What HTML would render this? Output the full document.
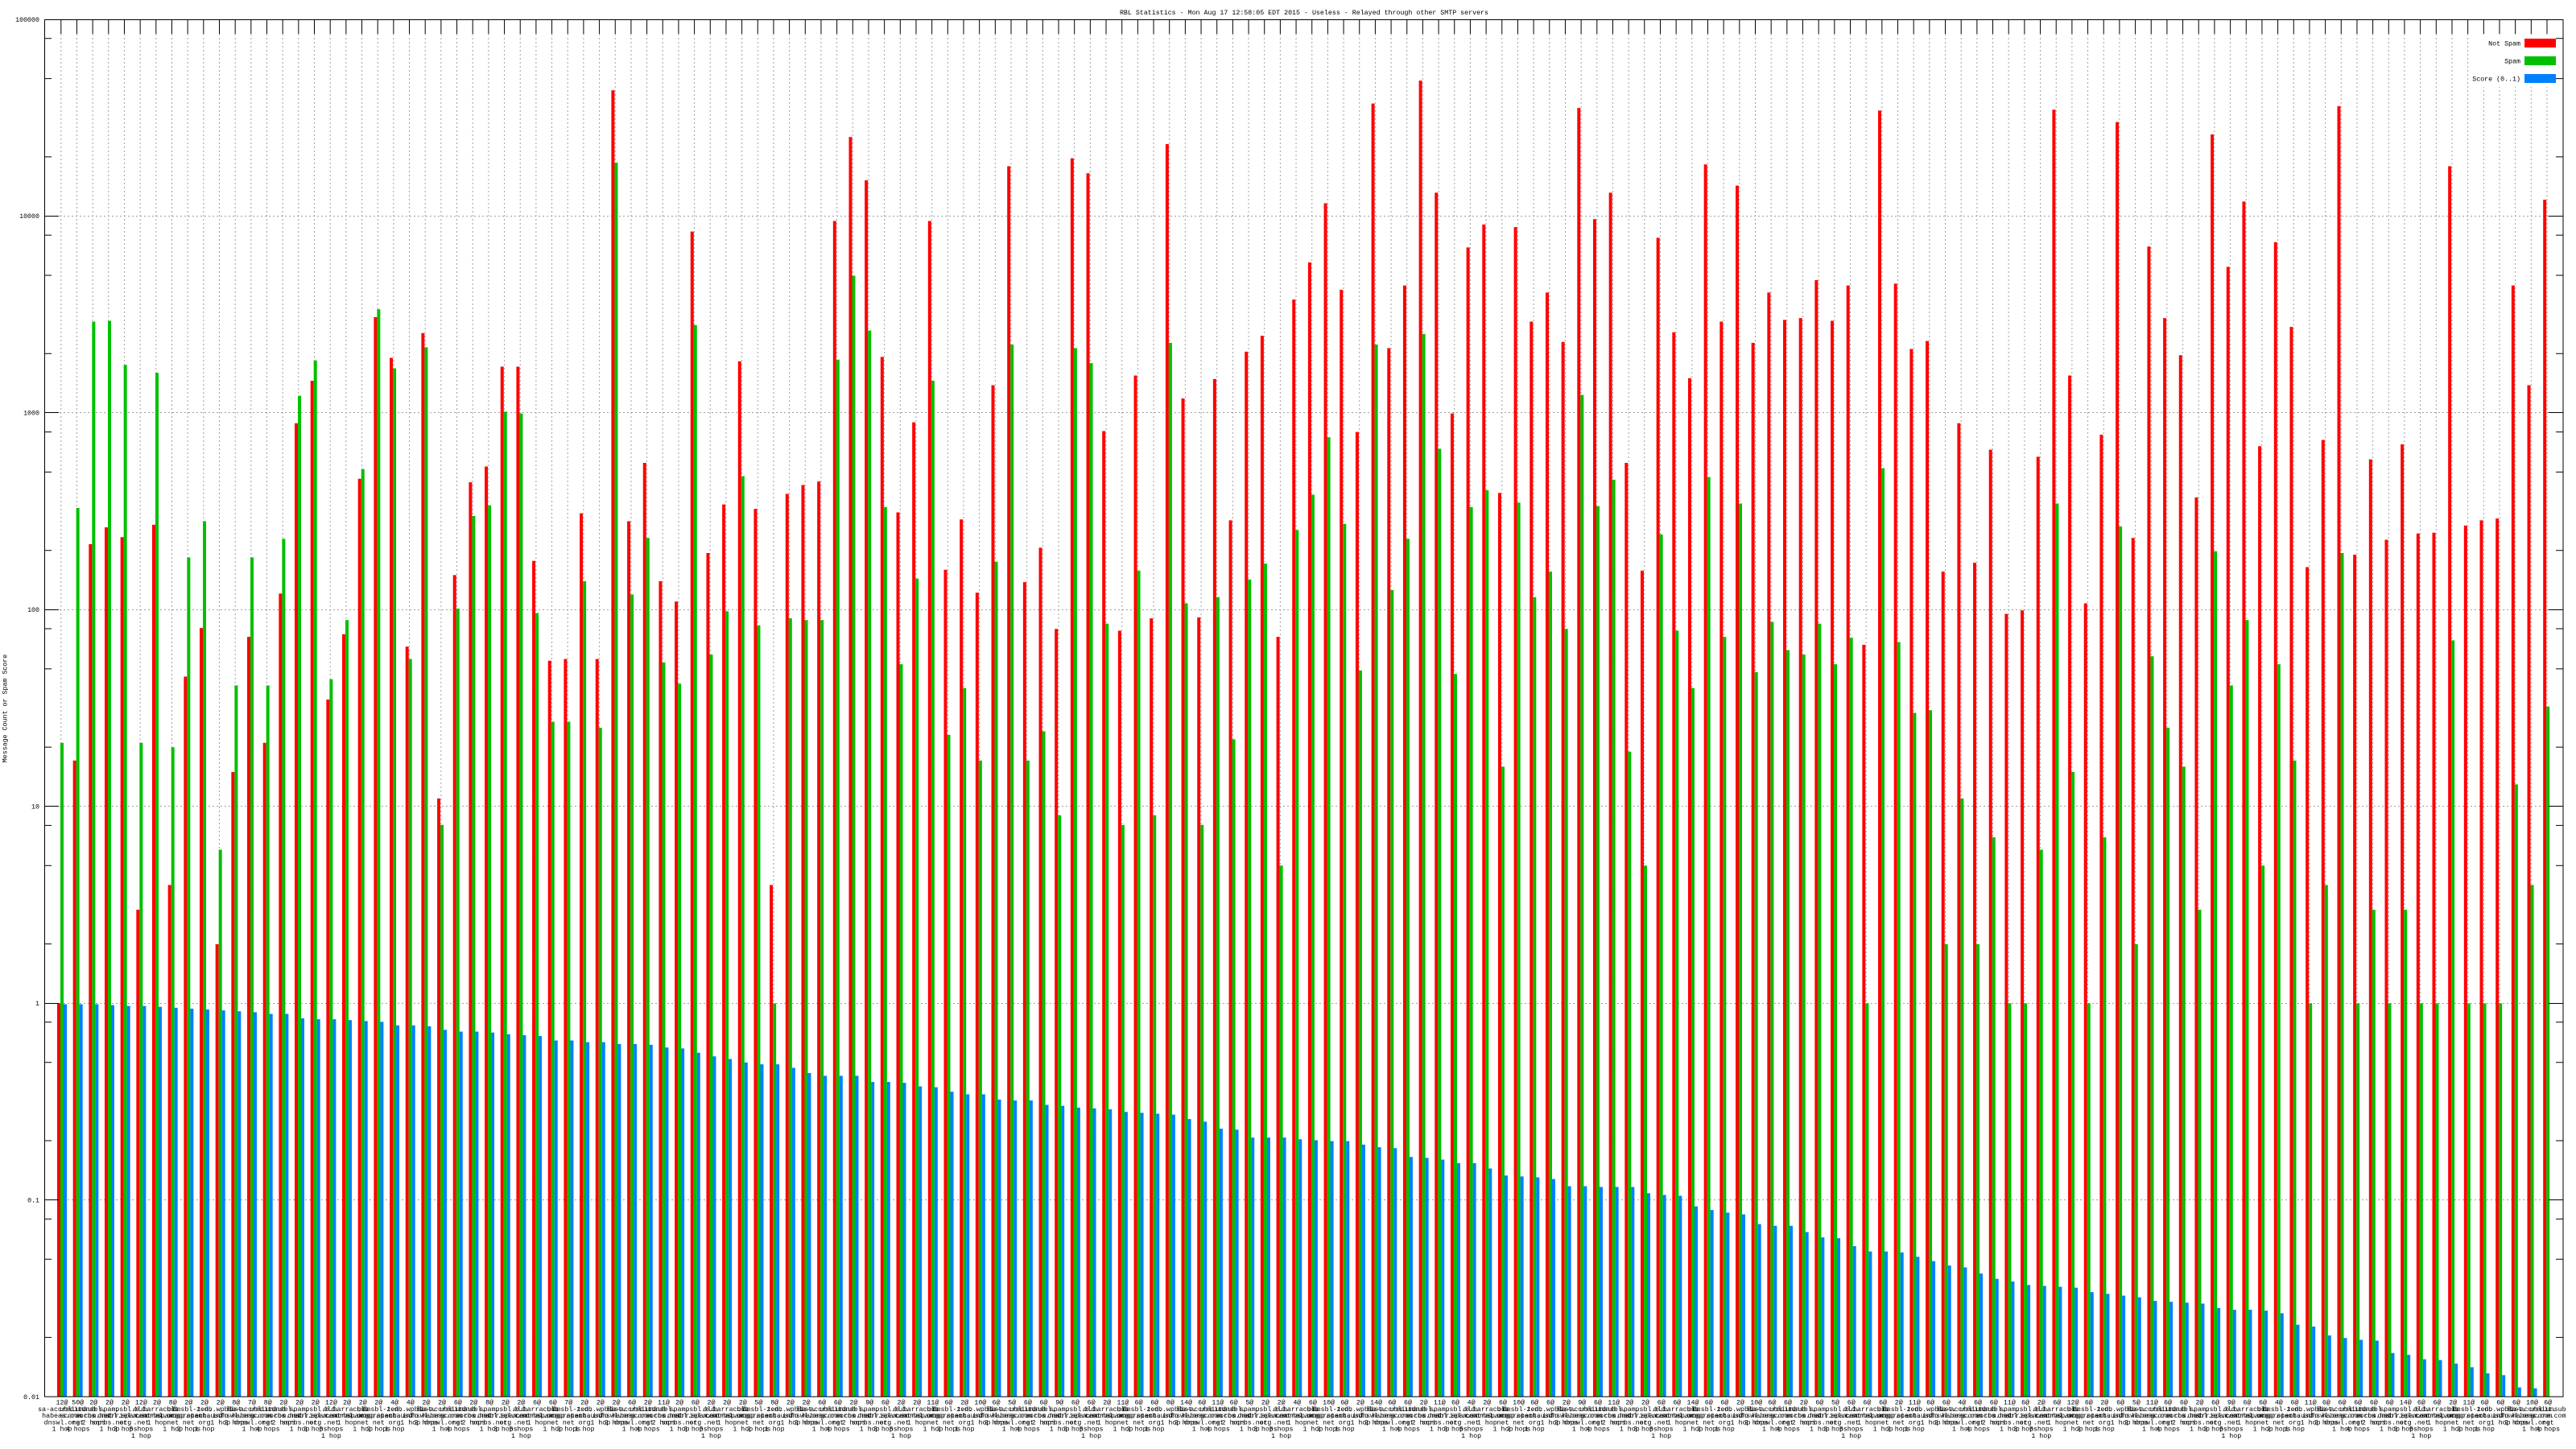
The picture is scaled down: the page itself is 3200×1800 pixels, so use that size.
<!DOCTYPE html>
<html><head><meta charset="utf-8"><style>
html,body{margin:0;padding:0;background:#fff;width:3200px;height:1800px;overflow:hidden}
svg{display:block}
text{font-family:"Liberation Mono","DejaVu Sans Mono",monospace;font-size:8.3px;fill:#000}
</style></head><body>
<svg xmlns="http://www.w3.org/2000/svg" width="3200" height="1800" viewBox="0 0 3200 1800">
<rect width="3200" height="1800" fill="#fff"/>
<text x="1620" y="18" text-anchor="middle">RBL Statistics - Mon Aug 17 12:58:05 EDT 2015 - Useless - Relayed through other SMTP servers</text>

<!-- horizontal grid -->
<path fill="none" stroke="#a0a0a0" stroke-width="1" stroke-dasharray="2 3" d="M74,268.5H3166M74,512.5H3166M74,757.5H3166M74,1001.5H3166M74,1246.5H3166M74,1490.5H3166"/>
<!-- vertical grid -->
<g transform="translate(75.8,0) scale(19.67,1)"><path fill="none" stroke="#a0a0a0" stroke-width="0.0508" stroke-dasharray="2 3" d="M0,42V1735M1,42V1735M2,42V1735M3,42V1735M4,42V1735M5,42V1735M6,42V1735M7,42V1735M8,42V1735M9,42V1735M10,42V1735M11,42V1735M12,42V1735M13,42V1735M14,42V1735M15,42V1735M16,42V1735M17,42V1735M18,42V1735M19,42V1735M20,42V1735M21,42V1735M22,42V1735M23,42V1735M24,42V1735M25,42V1735M26,42V1735M27,42V1735M28,42V1735M29,42V1735M30,42V1735M31,42V1735M32,42V1735M33,42V1735M34,42V1735M35,42V1735M36,42V1735M37,42V1735M38,42V1735M39,42V1735M40,42V1735M41,42V1735M42,42V1735M43,42V1735M44,42V1735M45,42V1735M46,42V1735M47,42V1735M48,42V1735M49,42V1735M50,42V1735M51,42V1735M52,42V1735M53,42V1735M54,42V1735M55,42V1735M56,42V1735M57,42V1735M58,42V1735M59,42V1735M60,42V1735M61,42V1735M62,42V1735M63,42V1735M64,42V1735M65,42V1735M66,42V1735M67,42V1735M68,42V1735M69,42V1735M70,42V1735M71,42V1735M72,42V1735M73,42V1735M74,42V1735M75,42V1735M76,42V1735M77,42V1735M78,42V1735M79,42V1735M80,42V1735M81,42V1735M82,42V1735M83,42V1735M84,42V1735M85,42V1735M86,42V1735M87,42V1735M88,42V1735M89,42V1735M90,42V1735M91,42V1735M92,42V1735M93,42V1735M94,42V1735M95,42V1735M96,42V1735M97,42V1735M98,42V1735M99,42V1735M100,42V1735M101,42V1735M102,42V1735M103,42V1735M104,42V1735M105,42V1735M106,42V1735M107,42V1735M108,42V1735M109,42V1735M110,42V1735M111,42V1735M112,42V1735M113,42V1735M114,42V1735M115,42V1735M116,42V1735M117,42V1735M118,42V1735M119,42V1735M120,42V1735M121,42V1735M122,42V1735M123,42V1735M124,42V1735M125,42V1735M126,42V1735M127,42V1735M128,42V1735M129,42V1735M130,42V1735M131,42V1735M132,42V1735M133,42V1735M134,42V1735M135,42V1735M136,42V1735M137,42V1735M138,42V1735M139,42V1735M140,42V1735M141,42V1735M142,42V1735M143,42V1735M144,42V1735M145,42V1735M146,42V1735M147,42V1735M148,42V1735M149,42V1735M150,42V1735M151,42V1735M152,42V1735M153,42V1735M154,42V1735M155,42V1735M156,42V1735M157,42V1735"/></g>

<!-- legend background -->
<rect x="3070" y="43" width="113" height="65" fill="#fff"/>

<!-- bars -->
<g transform="translate(73,20) scale(19.67,1.09694)" shape-rendering="crispEdges"><path fill="none" stroke="#ff0000" stroke-width="0.20336" d="M0 1118V1563.4M1 843V1563.4M2 598V1563.4M3 579V1563.4M4 590V1563.4M5 1012V1563.4M6 576V1563.4M7 984V1563.4M8 748V1563.4M9 693V1563.4M10 1051V1563.4M11 856V1563.4M12 703V1563.4M13 823V1563.4M14 654V1563.4M15 461V1563.4M16 413V1563.4M17 774V1563.4M18 700V1563.4M19 524V1563.4M20 341V1563.4M21 387V1563.4M22 714V1563.4M23 359V1563.4M24 886V1563.4M25 633V1563.4M26 528V1563.4M27 510V1563.4M28 397V1563.4M29 397V1563.4M30 617V1563.4M31 730V1563.4M32 728V1563.4M33 563V1563.4M34 728V1563.4M35 84V1563.4M36 572V1563.4M37 506V1563.4M38 640V1563.4M39 663V1563.4M40 244V1563.4M41 608V1563.4M42 553V1563.4M43 391V1563.4M44 558V1563.4M45 984V1563.4M46 541V1563.4M47 531V1563.4M48 527V1563.4M49 232V1563.4M50 137V1563.4M51 186V1563.4M52 386V1563.4M53 562V1563.4M54 460V1563.4M55 232V1563.4M56 627V1563.4M57 570V1563.4M58 653V1563.4M59 418V1563.4M60 170V1563.4M61 641V1563.4M62 602V1563.4M63 694V1563.4M64 161V1563.4M65 178V1563.4M66 470V1563.4M67 696V1563.4M68 407V1563.4M69 682V1563.4M70 145V1563.4M71 433V1563.4M72 681V1563.4M73 411V1563.4M74 571V1563.4M75 380V1563.4M76 362V1563.4M77 703V1563.4M78 321V1563.4M79 279V1563.4M80 212V1563.4M81 310V1563.4M82 471V1563.4M83 99V1563.4M84 376V1563.4M85 305V1563.4M86 73V1563.4M87 200V1563.4M88 450V1563.4M89 262V1563.4M90 236V1563.4M91 540V1563.4M92 239V1563.4M93 346V1563.4M94 313V1563.4M95 369V1563.4M96 104V1563.4M97 230V1563.4M98 200V1563.4M99 506V1563.4M100 628V1563.4M101 251V1563.4M102 358V1563.4M103 410V1563.4M104 168V1563.4M105 346V1563.4M106 192V1563.4M107 370V1563.4M108 313V1563.4M109 344V1563.4M110 342V1563.4M111 299V1563.4M112 345V1563.4M113 305V1563.4M114 712V1563.4M115 107V1563.4M116 303V1563.4M117 377V1563.4M118 368V1563.4M119 629V1563.4M120 461V1563.4M121 619V1563.4M122 491V1563.4M123 677V1563.4M124 673V1563.4M125 499V1563.4M126 106V1563.4M127 407V1563.4M128 665V1563.4M129 474V1563.4M130 120V1563.4M131 591V1563.4M132 261V1563.4M133 342V1563.4M134 384V1563.4M135 545V1563.4M136 134V1563.4M137 284V1563.4M138 210V1563.4M139 487V1563.4M140 256V1563.4M141 352V1563.4M142 624V1563.4M143 480V1563.4M144 102V1563.4M145 610V1563.4M146 502V1563.4M147 593V1563.4M148 485V1563.4M149 586V1563.4M150 585V1563.4M151 170V1563.4M152 577V1563.4M153 571V1563.4M154 569V1563.4M155 305V1563.4M156 418V1563.4M157 208V1563.4"/></g>
<g transform="translate(77,20) scale(19.67,1.09694)" shape-rendering="crispEdges"><path fill="none" stroke="#00c000" stroke-width="0.20336" d="M0 823V1563.4M1 557V1563.4M2 346V1563.4M3 345V1563.4M4 395V1563.4M5 823V1563.4M6 404V1563.4M7 828V1563.4M8 613V1563.4M9 572V1563.4M10 944V1563.4M11 758V1563.4M12 613V1563.4M13 758V1563.4M14 592V1563.4M15 430V1563.4M16 390V1563.4M17 751V1563.4M18 684V1563.4M19 513V1563.4M20 332V1563.4M21 399V1563.4M22 728V1563.4M23 375V1563.4M24 916V1563.4M25 671V1563.4M26 566V1563.4M27 554V1563.4M28 448V1563.4M29 450V1563.4M30 676V1563.4M31 799V1563.4M32 799V1563.4M33 640V1563.4M34 806V1563.4M35 166V1563.4M36 655V1563.4M37 591V1563.4M38 732V1563.4M39 756V1563.4M40 350V1563.4M41 723V1563.4M42 674V1563.4M43 521V1563.4M44 690V1563.4M45 1118V1563.4M46 682V1563.4M47 684V1563.4M48 684V1563.4M49 389V1563.4M50 294V1563.4M51 356V1563.4M52 556V1563.4M53 734V1563.4M54 637V1563.4M55 413V1563.4M56 814V1563.4M57 761V1563.4M58 843V1563.4M59 618V1563.4M60 372V1563.4M61 843V1563.4M62 810V1563.4M63 905V1563.4M64 376V1563.4M65 393V1563.4M66 688V1563.4M67 916V1563.4M68 628V1563.4M69 905V1563.4M70 370V1563.4M71 665V1563.4M72 916V1563.4M73 658V1563.4M74 819V1563.4M75 638V1563.4M76 620V1563.4M77 962V1563.4M78 582V1563.4M79 542V1563.4M80 477V1563.4M81 575V1563.4M82 741V1563.4M83 372V1563.4M84 650V1563.4M85 592V1563.4M86 360V1563.4M87 490V1563.4M88 745V1563.4M89 556V1563.4M90 537V1563.4M91 850V1563.4M92 551V1563.4M93 658V1563.4M94 629V1563.4M95 694V1563.4M96 429V1563.4M97 555V1563.4M98 525V1563.4M99 833V1563.4M100 962V1563.4M101 587V1563.4M102 696V1563.4M103 761V1563.4M104 522V1563.4M105 703V1563.4M106 552V1563.4M107 743V1563.4M108 686V1563.4M109 718V1563.4M110 723V1563.4M111 688V1563.4M112 734V1563.4M113 704V1563.4M114 1118V1563.4M115 512V1563.4M116 709V1563.4M117 789V1563.4M118 786V1563.4M119 1051V1563.4M120 886V1563.4M121 1051V1563.4M122 930V1563.4M123 1118V1563.4M124 1118V1563.4M125 944V1563.4M126 552V1563.4M127 856V1563.4M128 1118V1563.4M129 930V1563.4M130 578V1563.4M131 1051V1563.4M132 725V1563.4M133 806V1563.4M134 850V1563.4M135 1012V1563.4M136 606V1563.4M137 758V1563.4M138 684V1563.4M139 962V1563.4M140 734V1563.4M141 843V1563.4M142 1118V1563.4M143 984V1563.4M144 608V1563.4M145 1118V1563.4M146 1012V1563.4M147 1118V1563.4M148 1012V1563.4M149 1118V1563.4M150 1118V1563.4M151 707V1563.4M152 1118V1563.4M153 1118V1563.4M154 1118V1563.4M155 870V1563.4M156 984V1563.4M157 782V1563.4"/></g>
<g transform="translate(81,20) scale(19.67,1.09694)" shape-rendering="crispEdges"><path fill="none" stroke="#0080ff" stroke-width="0.20336" d="M0 1119V1563.4M1 1119V1563.4M2 1119V1563.4M3 1120V1563.4M4 1121V1563.4M5 1121V1563.4M6 1122V1563.4M7 1123V1563.4M8 1124V1563.4M9 1125V1563.4M10 1126V1563.4M11 1127V1563.4M12 1128V1563.4M13 1130V1563.4M14 1130V1563.4M15 1135V1563.4M16 1136V1563.4M17 1136V1563.4M18 1137V1563.4M19 1138V1563.4M20 1139V1563.4M21 1143V1563.4M22 1143V1563.4M23 1144V1563.4M24 1148V1563.4M25 1150V1563.4M26 1150V1563.4M27 1151V1563.4M28 1153V1563.4M29 1154V1563.4M30 1155V1563.4M31 1160V1563.4M32 1160V1563.4M33 1162V1563.4M34 1162V1563.4M35 1164V1563.4M36 1164V1563.4M37 1165V1563.4M38 1168V1563.4M39 1169V1563.4M40 1174V1563.4M41 1178V1563.4M42 1181V1563.4M43 1185V1563.4M44 1187V1563.4M45 1187V1563.4M46 1191V1563.4M47 1197V1563.4M48 1200V1563.4M49 1200V1563.4M50 1200V1563.4M51 1207V1563.4M52 1207V1563.4M53 1208V1563.4M54 1212V1563.4M55 1213V1563.4M56 1218V1563.4M57 1221V1563.4M58 1221V1563.4M59 1227V1563.4M60 1228V1563.4M61 1228V1563.4M62 1233V1563.4M63 1234V1563.4M64 1236V1563.4M65 1237V1563.4M66 1238V1563.4M67 1241V1563.4M68 1242V1563.4M69 1243V1563.4M70 1244V1563.4M71 1249V1563.4M72 1252V1563.4M73 1260V1563.4M74 1261V1563.4M75 1270V1563.4M76 1270V1563.4M77 1270V1563.4M78 1272V1563.4M79 1273V1563.4M80 1274V1563.4M81 1274V1563.4M82 1278V1563.4M83 1281V1563.4M84 1282V1563.4M85 1292V1563.4M86 1293V1563.4M87 1295V1563.4M88 1299V1563.4M89 1299V1563.4M90 1305V1563.4M91 1313V1563.4M92 1314V1563.4M93 1315V1563.4M94 1317V1563.4M95 1325V1563.4M96 1325V1563.4M97 1326V1563.4M98 1326V1563.4M99 1326V1563.4M100 1333V1563.4M101 1335V1563.4M102 1336V1563.4M103 1348V1563.4M104 1352V1563.4M105 1355V1563.4M106 1357V1563.4M107 1368V1563.4M108 1370V1563.4M109 1370V1563.4M110 1377V1563.4M111 1383V1563.4M112 1384V1563.4M113 1393V1563.4M114 1399V1563.4M115 1399V1563.4M116 1400V1563.4M117 1405V1563.4M118 1410V1563.4M119 1415V1563.4M120 1417V1563.4M121 1424V1563.4M122 1430V1563.4M123 1433V1563.4M124 1437V1563.4M125 1438V1563.4M126 1439V1563.4M127 1440V1563.4M128 1445V1563.4M129 1447V1563.4M130 1449V1563.4M131 1451V1563.4M132 1455V1563.4M133 1456V1563.4M134 1457V1563.4M135 1458V1563.4M136 1463V1563.4M137 1465V1563.4M138 1465V1563.4M139 1466V1563.4M140 1469V1563.4M141 1482V1563.4M142 1484V1563.4M143 1494V1563.4M144 1497V1563.4M145 1499V1563.4M146 1500V1563.4M147 1514V1563.4M148 1516V1563.4M149 1521V1563.4M150 1522V1563.4M151 1526V1563.4M152 1530V1563.4M153 1537V1563.4M154 1539V1563.4M155 1553V1563.4M156 1554V1563.4"/></g>

<!-- top x ticks -->
<path fill="none" stroke="#000" stroke-width="18" stroke-dasharray="1 18.67" d="M75.3,33H3170"/>
<!-- y ticks -->
<path fill="none" stroke="#000" stroke-width="1" d="M55,268.5h18M55,512.5h18M55,757.5h18M55,1001.5h18M55,1246.5h18M55,1490.5h18
M3184,268.5h-18M3184,512.5h-18M3184,757.5h-18M3184,1001.5h-18M3184,1246.5h-18M3184,1490.5h-18
M55,194.9h9M55,97.6h9M55,47.7h9M55,439.3h9M55,342h9M55,292.1h9M55,683.7h9M55,586.4h9M55,536.6h9M55,928.1h9M55,830.9h9M55,781h9M55,1172.6h9M55,1075.3h9M55,1025.4h9M55,1417h9M55,1319.7h9M55,1269.8h9M55,1661.4h9M55,1564.2h9M55,1514.3h9
M3184,194.9h-9M3184,97.6h-9M3184,47.7h-9M3184,439.3h-9M3184,342h-9M3184,292.1h-9M3184,683.7h-9M3184,586.4h-9M3184,536.6h-9M3184,928.1h-9M3184,830.9h-9M3184,781h-9M3184,1172.6h-9M3184,1075.3h-9M3184,1025.4h-9M3184,1417h-9M3184,1319.7h-9M3184,1269.8h-9M3184,1661.4h-9M3184,1564.2h-9M3184,1514.3h-9"/>
<!-- frame -->
<rect x="55.5" y="24.5" width="3128.5" height="1710.5" fill="none" stroke="#000" stroke-width="1"/>

<!-- legend -->
<text x="3131" y="56.5" text-anchor="end">Not Spam</text>
<rect x="3136" y="48" width="39" height="11" fill="#ff0000"/>
<text x="3131" y="78.5" text-anchor="end">Spam</text>
<rect x="3136" y="70" width="39" height="11" fill="#00c000"/>
<text x="3131" y="100.5" text-anchor="end">Score (0..1)</text>
<rect x="3136" y="92" width="39" height="11" fill="#0080ff"/>

<!-- y tick labels -->
<g text-anchor="end">
<text x="49" y="26.8">100000</text>
<text x="49" y="271.2">10000</text>
<text x="49" y="515.6">1000</text>
<text x="49" y="760.1">100</text>
<text x="49" y="1004.5">10</text>
<text x="49" y="1248.9">1</text>
<text x="49" y="1493.4">0.1</text>
<text x="49" y="1737.8">0.01</text>
</g>
<text transform="translate(8.5,880) rotate(-90)" text-anchor="middle">Message Count or Spam Score</text>

<!-- x labels -->
<g text-anchor="middle">
<text transform="translate(77)" y="1744.5">12@<tspan x="0" dy="8.3">sa-accredit.</tspan><tspan x="0" dy="8.3">habeas.com</tspan><tspan x="0" dy="8.3">dnswl.org</tspan><tspan x="0" dy="8.3">1 hop</tspan></text>
<text transform="translate(96.7)" y="1744.5">50@<tspan x="0" dy="8.3">ubl.unsub</tspan><tspan x="0" dy="8.3">score.com</tspan><tspan x="0" dy="8.3">net</tspan><tspan x="0" dy="8.3">4 hops</tspan></text>
<text transform="translate(116.3)" y="1744.5">2@<tspan x="0" dy="8.3">dnsbl.</tspan><tspan x="0" dy="8.3">sorbs.net</tspan><tspan x="0" dy="8.3">2 hops</tspan></text>
<text transform="translate(136)" y="1744.5">2@<tspan x="0" dy="8.3">spam.</tspan><tspan x="0" dy="8.3">dnsbl.</tspan><tspan x="0" dy="8.3">sorbs.net</tspan><tspan x="0" dy="8.3">1 hop</tspan></text>
<text transform="translate(155.7)" y="1744.5">2@<tspan x="0" dy="8.3">psbl.</tspan><tspan x="0" dy="8.3">surriel.com</tspan><tspan x="0" dy="8.3">org</tspan><tspan x="0" dy="8.3">3 hops</tspan></text>
<text transform="translate(175.4)" y="1744.5">12@<tspan x="0" dy="8.3">old.</tspan><tspan x="0" dy="8.3">spam.sorbs</tspan><tspan x="0" dy="8.3">.net</tspan><tspan x="0" dy="8.3">5 hops</tspan><tspan x="0" dy="8.3">1 hop</tspan></text>
<text transform="translate(195)" y="1744.5">2@<tspan x="0" dy="8.3">b.barracuda</tspan><tspan x="0" dy="8.3">central.org</tspan><tspan x="0" dy="8.3">1 hop</tspan></text>
<text transform="translate(214.7)" y="1744.5">8@<tspan x="0" dy="8.3">bl.</tspan><tspan x="0" dy="8.3">spamcop.</tspan><tspan x="0" dy="8.3">net</tspan><tspan x="0" dy="8.3">1 hop</tspan></text>
<text transform="translate(234.4)" y="1744.5">2@<tspan x="0" dy="8.3">dnsbl-1.</tspan><tspan x="0" dy="8.3">uceprotect.</tspan><tspan x="0" dy="8.3">net</tspan><tspan x="0" dy="8.3">2 hops</tspan></text>
<text transform="translate(254)" y="1744.5">2@<tspan x="0" dy="8.3">zen.</tspan><tspan x="0" dy="8.3">spamhaus.</tspan><tspan x="0" dy="8.3">org</tspan><tspan x="0" dy="8.3">1 hop</tspan></text>
<text transform="translate(273.7)" y="1744.5">2@<tspan x="0" dy="8.3">db.wpbl.</tspan><tspan x="0" dy="8.3">info</tspan><tspan x="0" dy="8.3">1 hop</tspan></text>
<text transform="translate(293.4)" y="1744.5">8@<tspan x="0" dy="8.3">list.</tspan><tspan x="0" dy="8.3">dnswl.org</tspan><tspan x="0" dy="8.3">2 hops</tspan></text>
<text transform="translate(313)" y="1744.5">7@<tspan x="0" dy="8.3">sa-accredit.</tspan><tspan x="0" dy="8.3">habeas.com</tspan><tspan x="0" dy="8.3">dnswl.org</tspan><tspan x="0" dy="8.3">1 hop</tspan></text>
<text transform="translate(332.7)" y="1744.5">8@<tspan x="0" dy="8.3">ubl.unsub</tspan><tspan x="0" dy="8.3">score.com</tspan><tspan x="0" dy="8.3">net</tspan><tspan x="0" dy="8.3">4 hops</tspan></text>
<text transform="translate(352.4)" y="1744.5">2@<tspan x="0" dy="8.3">dnsbl.</tspan><tspan x="0" dy="8.3">sorbs.net</tspan><tspan x="0" dy="8.3">2 hops</tspan></text>
<text transform="translate(372.1)" y="1744.5">2@<tspan x="0" dy="8.3">spam.</tspan><tspan x="0" dy="8.3">dnsbl.</tspan><tspan x="0" dy="8.3">sorbs.net</tspan><tspan x="0" dy="8.3">1 hop</tspan></text>
<text transform="translate(391.7)" y="1744.5">2@<tspan x="0" dy="8.3">psbl.</tspan><tspan x="0" dy="8.3">surriel.com</tspan><tspan x="0" dy="8.3">org</tspan><tspan x="0" dy="8.3">3 hops</tspan></text>
<text transform="translate(411.4)" y="1744.5">12@<tspan x="0" dy="8.3">old.</tspan><tspan x="0" dy="8.3">spam.sorbs</tspan><tspan x="0" dy="8.3">.net</tspan><tspan x="0" dy="8.3">5 hops</tspan><tspan x="0" dy="8.3">1 hop</tspan></text>
<text transform="translate(431.1)" y="1744.5">2@<tspan x="0" dy="8.3">b.barracuda</tspan><tspan x="0" dy="8.3">central.org</tspan><tspan x="0" dy="8.3">1 hop</tspan></text>
<text transform="translate(450.7)" y="1744.5">2@<tspan x="0" dy="8.3">bl.</tspan><tspan x="0" dy="8.3">spamcop.</tspan><tspan x="0" dy="8.3">net</tspan><tspan x="0" dy="8.3">1 hop</tspan></text>
<text transform="translate(470.4)" y="1744.5">2@<tspan x="0" dy="8.3">dnsbl-1.</tspan><tspan x="0" dy="8.3">uceprotect.</tspan><tspan x="0" dy="8.3">net</tspan><tspan x="0" dy="8.3">2 hops</tspan></text>
<text transform="translate(490.1)" y="1744.5">4@<tspan x="0" dy="8.3">zen.</tspan><tspan x="0" dy="8.3">spamhaus.</tspan><tspan x="0" dy="8.3">org</tspan><tspan x="0" dy="8.3">1 hop</tspan></text>
<text transform="translate(509.7)" y="1744.5">4@<tspan x="0" dy="8.3">db.wpbl.</tspan><tspan x="0" dy="8.3">info</tspan><tspan x="0" dy="8.3">1 hop</tspan></text>
<text transform="translate(529.4)" y="1744.5">2@<tspan x="0" dy="8.3">list.</tspan><tspan x="0" dy="8.3">dnswl.org</tspan><tspan x="0" dy="8.3">2 hops</tspan></text>
<text transform="translate(549.1)" y="1744.5">2@<tspan x="0" dy="8.3">sa-accredit.</tspan><tspan x="0" dy="8.3">habeas.com</tspan><tspan x="0" dy="8.3">dnswl.org</tspan><tspan x="0" dy="8.3">1 hop</tspan></text>
<text transform="translate(568.8)" y="1744.5">6@<tspan x="0" dy="8.3">ubl.unsub</tspan><tspan x="0" dy="8.3">score.com</tspan><tspan x="0" dy="8.3">net</tspan><tspan x="0" dy="8.3">4 hops</tspan></text>
<text transform="translate(588.4)" y="1744.5">2@<tspan x="0" dy="8.3">dnsbl.</tspan><tspan x="0" dy="8.3">sorbs.net</tspan><tspan x="0" dy="8.3">2 hops</tspan></text>
<text transform="translate(608.1)" y="1744.5">8@<tspan x="0" dy="8.3">spam.</tspan><tspan x="0" dy="8.3">dnsbl.</tspan><tspan x="0" dy="8.3">sorbs.net</tspan><tspan x="0" dy="8.3">1 hop</tspan></text>
<text transform="translate(627.8)" y="1744.5">2@<tspan x="0" dy="8.3">psbl.</tspan><tspan x="0" dy="8.3">surriel.com</tspan><tspan x="0" dy="8.3">org</tspan><tspan x="0" dy="8.3">3 hops</tspan></text>
<text transform="translate(647.4)" y="1744.5">2@<tspan x="0" dy="8.3">old.</tspan><tspan x="0" dy="8.3">spam.sorbs</tspan><tspan x="0" dy="8.3">.net</tspan><tspan x="0" dy="8.3">5 hops</tspan><tspan x="0" dy="8.3">1 hop</tspan></text>
<text transform="translate(667.1)" y="1744.5">6@<tspan x="0" dy="8.3">b.barracuda</tspan><tspan x="0" dy="8.3">central.org</tspan><tspan x="0" dy="8.3">1 hop</tspan></text>
<text transform="translate(686.8)" y="1744.5">6@<tspan x="0" dy="8.3">bl.</tspan><tspan x="0" dy="8.3">spamcop.</tspan><tspan x="0" dy="8.3">net</tspan><tspan x="0" dy="8.3">1 hop</tspan></text>
<text transform="translate(706.4)" y="1744.5">7@<tspan x="0" dy="8.3">dnsbl-1.</tspan><tspan x="0" dy="8.3">uceprotect.</tspan><tspan x="0" dy="8.3">net</tspan><tspan x="0" dy="8.3">2 hops</tspan></text>
<text transform="translate(726.1)" y="1744.5">2@<tspan x="0" dy="8.3">zen.</tspan><tspan x="0" dy="8.3">spamhaus.</tspan><tspan x="0" dy="8.3">org</tspan><tspan x="0" dy="8.3">1 hop</tspan></text>
<text transform="translate(745.8)" y="1744.5">2@<tspan x="0" dy="8.3">db.wpbl.</tspan><tspan x="0" dy="8.3">info</tspan><tspan x="0" dy="8.3">1 hop</tspan></text>
<text transform="translate(765.5)" y="1744.5">2@<tspan x="0" dy="8.3">list.</tspan><tspan x="0" dy="8.3">dnswl.org</tspan><tspan x="0" dy="8.3">2 hops</tspan></text>
<text transform="translate(785.1)" y="1744.5">6@<tspan x="0" dy="8.3">sa-accredit.</tspan><tspan x="0" dy="8.3">habeas.com</tspan><tspan x="0" dy="8.3">dnswl.org</tspan><tspan x="0" dy="8.3">1 hop</tspan></text>
<text transform="translate(804.8)" y="1744.5">2@<tspan x="0" dy="8.3">ubl.unsub</tspan><tspan x="0" dy="8.3">score.com</tspan><tspan x="0" dy="8.3">net</tspan><tspan x="0" dy="8.3">4 hops</tspan></text>
<text transform="translate(824.5)" y="1744.5">11@<tspan x="0" dy="8.3">dnsbl.</tspan><tspan x="0" dy="8.3">sorbs.net</tspan><tspan x="0" dy="8.3">2 hops</tspan></text>
<text transform="translate(844.1)" y="1744.5">2@<tspan x="0" dy="8.3">spam.</tspan><tspan x="0" dy="8.3">dnsbl.</tspan><tspan x="0" dy="8.3">sorbs.net</tspan><tspan x="0" dy="8.3">1 hop</tspan></text>
<text transform="translate(863.8)" y="1744.5">6@<tspan x="0" dy="8.3">psbl.</tspan><tspan x="0" dy="8.3">surriel.com</tspan><tspan x="0" dy="8.3">org</tspan><tspan x="0" dy="8.3">3 hops</tspan></text>
<text transform="translate(883.5)" y="1744.5">2@<tspan x="0" dy="8.3">old.</tspan><tspan x="0" dy="8.3">spam.sorbs</tspan><tspan x="0" dy="8.3">.net</tspan><tspan x="0" dy="8.3">5 hops</tspan><tspan x="0" dy="8.3">1 hop</tspan></text>
<text transform="translate(903.1)" y="1744.5">2@<tspan x="0" dy="8.3">b.barracuda</tspan><tspan x="0" dy="8.3">central.org</tspan><tspan x="0" dy="8.3">1 hop</tspan></text>
<text transform="translate(922.8)" y="1744.5">2@<tspan x="0" dy="8.3">bl.</tspan><tspan x="0" dy="8.3">spamcop.</tspan><tspan x="0" dy="8.3">net</tspan><tspan x="0" dy="8.3">1 hop</tspan></text>
<text transform="translate(942.5)" y="1744.5">5@<tspan x="0" dy="8.3">dnsbl-1.</tspan><tspan x="0" dy="8.3">uceprotect.</tspan><tspan x="0" dy="8.3">net</tspan><tspan x="0" dy="8.3">2 hops</tspan></text>
<text transform="translate(962.2)" y="1744.5">8@<tspan x="0" dy="8.3">zen.</tspan><tspan x="0" dy="8.3">spamhaus.</tspan><tspan x="0" dy="8.3">org</tspan><tspan x="0" dy="8.3">1 hop</tspan></text>
<text transform="translate(981.8)" y="1744.5">2@<tspan x="0" dy="8.3">db.wpbl.</tspan><tspan x="0" dy="8.3">info</tspan><tspan x="0" dy="8.3">1 hop</tspan></text>
<text transform="translate(1001.5)" y="1744.5">2@<tspan x="0" dy="8.3">list.</tspan><tspan x="0" dy="8.3">dnswl.org</tspan><tspan x="0" dy="8.3">2 hops</tspan></text>
<text transform="translate(1021.2)" y="1744.5">6@<tspan x="0" dy="8.3">sa-accredit.</tspan><tspan x="0" dy="8.3">habeas.com</tspan><tspan x="0" dy="8.3">dnswl.org</tspan><tspan x="0" dy="8.3">1 hop</tspan></text>
<text transform="translate(1040.8)" y="1744.5">6@<tspan x="0" dy="8.3">ubl.unsub</tspan><tspan x="0" dy="8.3">score.com</tspan><tspan x="0" dy="8.3">net</tspan><tspan x="0" dy="8.3">4 hops</tspan></text>
<text transform="translate(1060.5)" y="1744.5">2@<tspan x="0" dy="8.3">dnsbl.</tspan><tspan x="0" dy="8.3">sorbs.net</tspan><tspan x="0" dy="8.3">2 hops</tspan></text>
<text transform="translate(1080.2)" y="1744.5">9@<tspan x="0" dy="8.3">spam.</tspan><tspan x="0" dy="8.3">dnsbl.</tspan><tspan x="0" dy="8.3">sorbs.net</tspan><tspan x="0" dy="8.3">1 hop</tspan></text>
<text transform="translate(1099.8)" y="1744.5">6@<tspan x="0" dy="8.3">psbl.</tspan><tspan x="0" dy="8.3">surriel.com</tspan><tspan x="0" dy="8.3">org</tspan><tspan x="0" dy="8.3">3 hops</tspan></text>
<text transform="translate(1119.5)" y="1744.5">2@<tspan x="0" dy="8.3">old.</tspan><tspan x="0" dy="8.3">spam.sorbs</tspan><tspan x="0" dy="8.3">.net</tspan><tspan x="0" dy="8.3">5 hops</tspan><tspan x="0" dy="8.3">1 hop</tspan></text>
<text transform="translate(1139.2)" y="1744.5">2@<tspan x="0" dy="8.3">b.barracuda</tspan><tspan x="0" dy="8.3">central.org</tspan><tspan x="0" dy="8.3">1 hop</tspan></text>
<text transform="translate(1158.9)" y="1744.5">11@<tspan x="0" dy="8.3">bl.</tspan><tspan x="0" dy="8.3">spamcop.</tspan><tspan x="0" dy="8.3">net</tspan><tspan x="0" dy="8.3">1 hop</tspan></text>
<text transform="translate(1178.5)" y="1744.5">6@<tspan x="0" dy="8.3">dnsbl-1.</tspan><tspan x="0" dy="8.3">uceprotect.</tspan><tspan x="0" dy="8.3">net</tspan><tspan x="0" dy="8.3">2 hops</tspan></text>
<text transform="translate(1198.2)" y="1744.5">2@<tspan x="0" dy="8.3">zen.</tspan><tspan x="0" dy="8.3">spamhaus.</tspan><tspan x="0" dy="8.3">org</tspan><tspan x="0" dy="8.3">1 hop</tspan></text>
<text transform="translate(1217.9)" y="1744.5">10@<tspan x="0" dy="8.3">db.wpbl.</tspan><tspan x="0" dy="8.3">info</tspan><tspan x="0" dy="8.3">1 hop</tspan></text>
<text transform="translate(1237.5)" y="1744.5">6@<tspan x="0" dy="8.3">list.</tspan><tspan x="0" dy="8.3">dnswl.org</tspan><tspan x="0" dy="8.3">2 hops</tspan></text>
<text transform="translate(1257.2)" y="1744.5">5@<tspan x="0" dy="8.3">sa-accredit.</tspan><tspan x="0" dy="8.3">habeas.com</tspan><tspan x="0" dy="8.3">dnswl.org</tspan><tspan x="0" dy="8.3">1 hop</tspan></text>
<text transform="translate(1276.9)" y="1744.5">6@<tspan x="0" dy="8.3">ubl.unsub</tspan><tspan x="0" dy="8.3">score.com</tspan><tspan x="0" dy="8.3">net</tspan><tspan x="0" dy="8.3">4 hops</tspan></text>
<text transform="translate(1296.5)" y="1744.5">6@<tspan x="0" dy="8.3">dnsbl.</tspan><tspan x="0" dy="8.3">sorbs.net</tspan><tspan x="0" dy="8.3">2 hops</tspan></text>
<text transform="translate(1316.2)" y="1744.5">9@<tspan x="0" dy="8.3">spam.</tspan><tspan x="0" dy="8.3">dnsbl.</tspan><tspan x="0" dy="8.3">sorbs.net</tspan><tspan x="0" dy="8.3">1 hop</tspan></text>
<text transform="translate(1335.9)" y="1744.5">6@<tspan x="0" dy="8.3">psbl.</tspan><tspan x="0" dy="8.3">surriel.com</tspan><tspan x="0" dy="8.3">org</tspan><tspan x="0" dy="8.3">3 hops</tspan></text>
<text transform="translate(1355.6)" y="1744.5">6@<tspan x="0" dy="8.3">old.</tspan><tspan x="0" dy="8.3">spam.sorbs</tspan><tspan x="0" dy="8.3">.net</tspan><tspan x="0" dy="8.3">5 hops</tspan><tspan x="0" dy="8.3">1 hop</tspan></text>
<text transform="translate(1375.2)" y="1744.5">2@<tspan x="0" dy="8.3">b.barracuda</tspan><tspan x="0" dy="8.3">central.org</tspan><tspan x="0" dy="8.3">1 hop</tspan></text>
<text transform="translate(1394.9)" y="1744.5">11@<tspan x="0" dy="8.3">bl.</tspan><tspan x="0" dy="8.3">spamcop.</tspan><tspan x="0" dy="8.3">net</tspan><tspan x="0" dy="8.3">1 hop</tspan></text>
<text transform="translate(1414.6)" y="1744.5">6@<tspan x="0" dy="8.3">dnsbl-1.</tspan><tspan x="0" dy="8.3">uceprotect.</tspan><tspan x="0" dy="8.3">net</tspan><tspan x="0" dy="8.3">2 hops</tspan></text>
<text transform="translate(1434.2)" y="1744.5">6@<tspan x="0" dy="8.3">zen.</tspan><tspan x="0" dy="8.3">spamhaus.</tspan><tspan x="0" dy="8.3">org</tspan><tspan x="0" dy="8.3">1 hop</tspan></text>
<text transform="translate(1453.9)" y="1744.5">0@<tspan x="0" dy="8.3">db.wpbl.</tspan><tspan x="0" dy="8.3">info</tspan><tspan x="0" dy="8.3">1 hop</tspan></text>
<text transform="translate(1473.6)" y="1744.5">14@<tspan x="0" dy="8.3">list.</tspan><tspan x="0" dy="8.3">dnswl.org</tspan><tspan x="0" dy="8.3">2 hops</tspan></text>
<text transform="translate(1493.2)" y="1744.5">6@<tspan x="0" dy="8.3">sa-accredit.</tspan><tspan x="0" dy="8.3">habeas.com</tspan><tspan x="0" dy="8.3">dnswl.org</tspan><tspan x="0" dy="8.3">1 hop</tspan></text>
<text transform="translate(1512.9)" y="1744.5">11@<tspan x="0" dy="8.3">ubl.unsub</tspan><tspan x="0" dy="8.3">score.com</tspan><tspan x="0" dy="8.3">net</tspan><tspan x="0" dy="8.3">4 hops</tspan></text>
<text transform="translate(1532.6)" y="1744.5">6@<tspan x="0" dy="8.3">dnsbl.</tspan><tspan x="0" dy="8.3">sorbs.net</tspan><tspan x="0" dy="8.3">2 hops</tspan></text>
<text transform="translate(1552.3)" y="1744.5">5@<tspan x="0" dy="8.3">spam.</tspan><tspan x="0" dy="8.3">dnsbl.</tspan><tspan x="0" dy="8.3">sorbs.net</tspan><tspan x="0" dy="8.3">1 hop</tspan></text>
<text transform="translate(1571.9)" y="1744.5">2@<tspan x="0" dy="8.3">psbl.</tspan><tspan x="0" dy="8.3">surriel.com</tspan><tspan x="0" dy="8.3">org</tspan><tspan x="0" dy="8.3">3 hops</tspan></text>
<text transform="translate(1591.6)" y="1744.5">2@<tspan x="0" dy="8.3">old.</tspan><tspan x="0" dy="8.3">spam.sorbs</tspan><tspan x="0" dy="8.3">.net</tspan><tspan x="0" dy="8.3">5 hops</tspan><tspan x="0" dy="8.3">1 hop</tspan></text>
<text transform="translate(1611.3)" y="1744.5">4@<tspan x="0" dy="8.3">b.barracuda</tspan><tspan x="0" dy="8.3">central.org</tspan><tspan x="0" dy="8.3">1 hop</tspan></text>
<text transform="translate(1630.9)" y="1744.5">6@<tspan x="0" dy="8.3">bl.</tspan><tspan x="0" dy="8.3">spamcop.</tspan><tspan x="0" dy="8.3">net</tspan><tspan x="0" dy="8.3">1 hop</tspan></text>
<text transform="translate(1650.6)" y="1744.5">10@<tspan x="0" dy="8.3">dnsbl-1.</tspan><tspan x="0" dy="8.3">uceprotect.</tspan><tspan x="0" dy="8.3">net</tspan><tspan x="0" dy="8.3">2 hops</tspan></text>
<text transform="translate(1670.3)" y="1744.5">6@<tspan x="0" dy="8.3">zen.</tspan><tspan x="0" dy="8.3">spamhaus.</tspan><tspan x="0" dy="8.3">org</tspan><tspan x="0" dy="8.3">1 hop</tspan></text>
<text transform="translate(1689.9)" y="1744.5">2@<tspan x="0" dy="8.3">db.wpbl.</tspan><tspan x="0" dy="8.3">info</tspan><tspan x="0" dy="8.3">1 hop</tspan></text>
<text transform="translate(1709.6)" y="1744.5">14@<tspan x="0" dy="8.3">list.</tspan><tspan x="0" dy="8.3">dnswl.org</tspan><tspan x="0" dy="8.3">2 hops</tspan></text>
<text transform="translate(1729.3)" y="1744.5">6@<tspan x="0" dy="8.3">sa-accredit.</tspan><tspan x="0" dy="8.3">habeas.com</tspan><tspan x="0" dy="8.3">dnswl.org</tspan><tspan x="0" dy="8.3">1 hop</tspan></text>
<text transform="translate(1749)" y="1744.5">6@<tspan x="0" dy="8.3">ubl.unsub</tspan><tspan x="0" dy="8.3">score.com</tspan><tspan x="0" dy="8.3">net</tspan><tspan x="0" dy="8.3">4 hops</tspan></text>
<text transform="translate(1768.6)" y="1744.5">2@<tspan x="0" dy="8.3">dnsbl.</tspan><tspan x="0" dy="8.3">sorbs.net</tspan><tspan x="0" dy="8.3">2 hops</tspan></text>
<text transform="translate(1788.3)" y="1744.5">11@<tspan x="0" dy="8.3">spam.</tspan><tspan x="0" dy="8.3">dnsbl.</tspan><tspan x="0" dy="8.3">sorbs.net</tspan><tspan x="0" dy="8.3">1 hop</tspan></text>
<text transform="translate(1808)" y="1744.5">6@<tspan x="0" dy="8.3">psbl.</tspan><tspan x="0" dy="8.3">surriel.com</tspan><tspan x="0" dy="8.3">org</tspan><tspan x="0" dy="8.3">3 hops</tspan></text>
<text transform="translate(1827.6)" y="1744.5">4@<tspan x="0" dy="8.3">old.</tspan><tspan x="0" dy="8.3">spam.sorbs</tspan><tspan x="0" dy="8.3">.net</tspan><tspan x="0" dy="8.3">5 hops</tspan><tspan x="0" dy="8.3">1 hop</tspan></text>
<text transform="translate(1847.3)" y="1744.5">2@<tspan x="0" dy="8.3">b.barracuda</tspan><tspan x="0" dy="8.3">central.org</tspan><tspan x="0" dy="8.3">1 hop</tspan></text>
<text transform="translate(1867)" y="1744.5">6@<tspan x="0" dy="8.3">bl.</tspan><tspan x="0" dy="8.3">spamcop.</tspan><tspan x="0" dy="8.3">net</tspan><tspan x="0" dy="8.3">1 hop</tspan></text>
<text transform="translate(1886.6)" y="1744.5">10@<tspan x="0" dy="8.3">dnsbl-1.</tspan><tspan x="0" dy="8.3">uceprotect.</tspan><tspan x="0" dy="8.3">net</tspan><tspan x="0" dy="8.3">2 hops</tspan></text>
<text transform="translate(1906.3)" y="1744.5">6@<tspan x="0" dy="8.3">zen.</tspan><tspan x="0" dy="8.3">spamhaus.</tspan><tspan x="0" dy="8.3">org</tspan><tspan x="0" dy="8.3">1 hop</tspan></text>
<text transform="translate(1926)" y="1744.5">6@<tspan x="0" dy="8.3">db.wpbl.</tspan><tspan x="0" dy="8.3">info</tspan><tspan x="0" dy="8.3">1 hop</tspan></text>
<text transform="translate(1945.7)" y="1744.5">2@<tspan x="0" dy="8.3">list.</tspan><tspan x="0" dy="8.3">dnswl.org</tspan><tspan x="0" dy="8.3">2 hops</tspan></text>
<text transform="translate(1965.3)" y="1744.5">9@<tspan x="0" dy="8.3">sa-accredit.</tspan><tspan x="0" dy="8.3">habeas.com</tspan><tspan x="0" dy="8.3">dnswl.org</tspan><tspan x="0" dy="8.3">1 hop</tspan></text>
<text transform="translate(1985)" y="1744.5">6@<tspan x="0" dy="8.3">ubl.unsub</tspan><tspan x="0" dy="8.3">score.com</tspan><tspan x="0" dy="8.3">net</tspan><tspan x="0" dy="8.3">4 hops</tspan></text>
<text transform="translate(2004.7)" y="1744.5">11@<tspan x="0" dy="8.3">dnsbl.</tspan><tspan x="0" dy="8.3">sorbs.net</tspan><tspan x="0" dy="8.3">2 hops</tspan></text>
<text transform="translate(2024.3)" y="1744.5">2@<tspan x="0" dy="8.3">spam.</tspan><tspan x="0" dy="8.3">dnsbl.</tspan><tspan x="0" dy="8.3">sorbs.net</tspan><tspan x="0" dy="8.3">1 hop</tspan></text>
<text transform="translate(2044)" y="1744.5">2@<tspan x="0" dy="8.3">psbl.</tspan><tspan x="0" dy="8.3">surriel.com</tspan><tspan x="0" dy="8.3">org</tspan><tspan x="0" dy="8.3">3 hops</tspan></text>
<text transform="translate(2063.7)" y="1744.5">6@<tspan x="0" dy="8.3">old.</tspan><tspan x="0" dy="8.3">spam.sorbs</tspan><tspan x="0" dy="8.3">.net</tspan><tspan x="0" dy="8.3">5 hops</tspan><tspan x="0" dy="8.3">1 hop</tspan></text>
<text transform="translate(2083.3)" y="1744.5">6@<tspan x="0" dy="8.3">b.barracuda</tspan><tspan x="0" dy="8.3">central.org</tspan><tspan x="0" dy="8.3">1 hop</tspan></text>
<text transform="translate(2103)" y="1744.5">14@<tspan x="0" dy="8.3">bl.</tspan><tspan x="0" dy="8.3">spamcop.</tspan><tspan x="0" dy="8.3">net</tspan><tspan x="0" dy="8.3">1 hop</tspan></text>
<text transform="translate(2122.7)" y="1744.5">6@<tspan x="0" dy="8.3">dnsbl-1.</tspan><tspan x="0" dy="8.3">uceprotect.</tspan><tspan x="0" dy="8.3">net</tspan><tspan x="0" dy="8.3">2 hops</tspan></text>
<text transform="translate(2142.4)" y="1744.5">6@<tspan x="0" dy="8.3">zen.</tspan><tspan x="0" dy="8.3">spamhaus.</tspan><tspan x="0" dy="8.3">org</tspan><tspan x="0" dy="8.3">1 hop</tspan></text>
<text transform="translate(2162)" y="1744.5">2@<tspan x="0" dy="8.3">db.wpbl.</tspan><tspan x="0" dy="8.3">info</tspan><tspan x="0" dy="8.3">1 hop</tspan></text>
<text transform="translate(2181.7)" y="1744.5">10@<tspan x="0" dy="8.3">list.</tspan><tspan x="0" dy="8.3">dnswl.org</tspan><tspan x="0" dy="8.3">2 hops</tspan></text>
<text transform="translate(2201.4)" y="1744.5">6@<tspan x="0" dy="8.3">sa-accredit.</tspan><tspan x="0" dy="8.3">habeas.com</tspan><tspan x="0" dy="8.3">dnswl.org</tspan><tspan x="0" dy="8.3">1 hop</tspan></text>
<text transform="translate(2221)" y="1744.5">6@<tspan x="0" dy="8.3">ubl.unsub</tspan><tspan x="0" dy="8.3">score.com</tspan><tspan x="0" dy="8.3">net</tspan><tspan x="0" dy="8.3">4 hops</tspan></text>
<text transform="translate(2240.7)" y="1744.5">2@<tspan x="0" dy="8.3">dnsbl.</tspan><tspan x="0" dy="8.3">sorbs.net</tspan><tspan x="0" dy="8.3">2 hops</tspan></text>
<text transform="translate(2260.4)" y="1744.5">6@<tspan x="0" dy="8.3">spam.</tspan><tspan x="0" dy="8.3">dnsbl.</tspan><tspan x="0" dy="8.3">sorbs.net</tspan><tspan x="0" dy="8.3">1 hop</tspan></text>
<text transform="translate(2280)" y="1744.5">5@<tspan x="0" dy="8.3">psbl.</tspan><tspan x="0" dy="8.3">surriel.com</tspan><tspan x="0" dy="8.3">org</tspan><tspan x="0" dy="8.3">3 hops</tspan></text>
<text transform="translate(2299.7)" y="1744.5">6@<tspan x="0" dy="8.3">old.</tspan><tspan x="0" dy="8.3">spam.sorbs</tspan><tspan x="0" dy="8.3">.net</tspan><tspan x="0" dy="8.3">5 hops</tspan><tspan x="0" dy="8.3">1 hop</tspan></text>
<text transform="translate(2319.4)" y="1744.5">6@<tspan x="0" dy="8.3">b.barracuda</tspan><tspan x="0" dy="8.3">central.org</tspan><tspan x="0" dy="8.3">1 hop</tspan></text>
<text transform="translate(2339.1)" y="1744.5">6@<tspan x="0" dy="8.3">bl.</tspan><tspan x="0" dy="8.3">spamcop.</tspan><tspan x="0" dy="8.3">net</tspan><tspan x="0" dy="8.3">1 hop</tspan></text>
<text transform="translate(2358.7)" y="1744.5">2@<tspan x="0" dy="8.3">dnsbl-1.</tspan><tspan x="0" dy="8.3">uceprotect.</tspan><tspan x="0" dy="8.3">net</tspan><tspan x="0" dy="8.3">2 hops</tspan></text>
<text transform="translate(2378.4)" y="1744.5">11@<tspan x="0" dy="8.3">zen.</tspan><tspan x="0" dy="8.3">spamhaus.</tspan><tspan x="0" dy="8.3">org</tspan><tspan x="0" dy="8.3">1 hop</tspan></text>
<text transform="translate(2398.1)" y="1744.5">6@<tspan x="0" dy="8.3">db.wpbl.</tspan><tspan x="0" dy="8.3">info</tspan><tspan x="0" dy="8.3">1 hop</tspan></text>
<text transform="translate(2417.7)" y="1744.5">6@<tspan x="0" dy="8.3">list.</tspan><tspan x="0" dy="8.3">dnswl.org</tspan><tspan x="0" dy="8.3">2 hops</tspan></text>
<text transform="translate(2437.4)" y="1744.5">4@<tspan x="0" dy="8.3">sa-accredit.</tspan><tspan x="0" dy="8.3">habeas.com</tspan><tspan x="0" dy="8.3">dnswl.org</tspan><tspan x="0" dy="8.3">1 hop</tspan></text>
<text transform="translate(2457.1)" y="1744.5">6@<tspan x="0" dy="8.3">ubl.unsub</tspan><tspan x="0" dy="8.3">score.com</tspan><tspan x="0" dy="8.3">net</tspan><tspan x="0" dy="8.3">4 hops</tspan></text>
<text transform="translate(2476.7)" y="1744.5">6@<tspan x="0" dy="8.3">dnsbl.</tspan><tspan x="0" dy="8.3">sorbs.net</tspan><tspan x="0" dy="8.3">2 hops</tspan></text>
<text transform="translate(2496.4)" y="1744.5">11@<tspan x="0" dy="8.3">spam.</tspan><tspan x="0" dy="8.3">dnsbl.</tspan><tspan x="0" dy="8.3">sorbs.net</tspan><tspan x="0" dy="8.3">1 hop</tspan></text>
<text transform="translate(2516.1)" y="1744.5">6@<tspan x="0" dy="8.3">psbl.</tspan><tspan x="0" dy="8.3">surriel.com</tspan><tspan x="0" dy="8.3">org</tspan><tspan x="0" dy="8.3">3 hops</tspan></text>
<text transform="translate(2535.8)" y="1744.5">2@<tspan x="0" dy="8.3">old.</tspan><tspan x="0" dy="8.3">spam.sorbs</tspan><tspan x="0" dy="8.3">.net</tspan><tspan x="0" dy="8.3">5 hops</tspan><tspan x="0" dy="8.3">1 hop</tspan></text>
<text transform="translate(2555.4)" y="1744.5">6@<tspan x="0" dy="8.3">b.barracuda</tspan><tspan x="0" dy="8.3">central.org</tspan><tspan x="0" dy="8.3">1 hop</tspan></text>
<text transform="translate(2575.1)" y="1744.5">12@<tspan x="0" dy="8.3">bl.</tspan><tspan x="0" dy="8.3">spamcop.</tspan><tspan x="0" dy="8.3">net</tspan><tspan x="0" dy="8.3">1 hop</tspan></text>
<text transform="translate(2594.8)" y="1744.5">6@<tspan x="0" dy="8.3">dnsbl-1.</tspan><tspan x="0" dy="8.3">uceprotect.</tspan><tspan x="0" dy="8.3">net</tspan><tspan x="0" dy="8.3">2 hops</tspan></text>
<text transform="translate(2614.4)" y="1744.5">2@<tspan x="0" dy="8.3">zen.</tspan><tspan x="0" dy="8.3">spamhaus.</tspan><tspan x="0" dy="8.3">org</tspan><tspan x="0" dy="8.3">1 hop</tspan></text>
<text transform="translate(2634.1)" y="1744.5">6@<tspan x="0" dy="8.3">db.wpbl.</tspan><tspan x="0" dy="8.3">info</tspan><tspan x="0" dy="8.3">1 hop</tspan></text>
<text transform="translate(2653.8)" y="1744.5">5@<tspan x="0" dy="8.3">list.</tspan><tspan x="0" dy="8.3">dnswl.org</tspan><tspan x="0" dy="8.3">2 hops</tspan></text>
<text transform="translate(2673.4)" y="1744.5">11@<tspan x="0" dy="8.3">sa-accredit.</tspan><tspan x="0" dy="8.3">habeas.com</tspan><tspan x="0" dy="8.3">dnswl.org</tspan><tspan x="0" dy="8.3">1 hop</tspan></text>
<text transform="translate(2693.1)" y="1744.5">6@<tspan x="0" dy="8.3">ubl.unsub</tspan><tspan x="0" dy="8.3">score.com</tspan><tspan x="0" dy="8.3">net</tspan><tspan x="0" dy="8.3">4 hops</tspan></text>
<text transform="translate(2712.8)" y="1744.5">6@<tspan x="0" dy="8.3">dnsbl.</tspan><tspan x="0" dy="8.3">sorbs.net</tspan><tspan x="0" dy="8.3">2 hops</tspan></text>
<text transform="translate(2732.5)" y="1744.5">2@<tspan x="0" dy="8.3">spam.</tspan><tspan x="0" dy="8.3">dnsbl.</tspan><tspan x="0" dy="8.3">sorbs.net</tspan><tspan x="0" dy="8.3">1 hop</tspan></text>
<text transform="translate(2752.1)" y="1744.5">6@<tspan x="0" dy="8.3">psbl.</tspan><tspan x="0" dy="8.3">surriel.com</tspan><tspan x="0" dy="8.3">org</tspan><tspan x="0" dy="8.3">3 hops</tspan></text>
<text transform="translate(2771.8)" y="1744.5">9@<tspan x="0" dy="8.3">old.</tspan><tspan x="0" dy="8.3">spam.sorbs</tspan><tspan x="0" dy="8.3">.net</tspan><tspan x="0" dy="8.3">5 hops</tspan><tspan x="0" dy="8.3">1 hop</tspan></text>
<text transform="translate(2791.5)" y="1744.5">6@<tspan x="0" dy="8.3">b.barracuda</tspan><tspan x="0" dy="8.3">central.org</tspan><tspan x="0" dy="8.3">1 hop</tspan></text>
<text transform="translate(2811.1)" y="1744.5">6@<tspan x="0" dy="8.3">bl.</tspan><tspan x="0" dy="8.3">spamcop.</tspan><tspan x="0" dy="8.3">net</tspan><tspan x="0" dy="8.3">1 hop</tspan></text>
<text transform="translate(2830.8)" y="1744.5">4@<tspan x="0" dy="8.3">dnsbl-1.</tspan><tspan x="0" dy="8.3">uceprotect.</tspan><tspan x="0" dy="8.3">net</tspan><tspan x="0" dy="8.3">2 hops</tspan></text>
<text transform="translate(2850.5)" y="1744.5">6@<tspan x="0" dy="8.3">zen.</tspan><tspan x="0" dy="8.3">spamhaus.</tspan><tspan x="0" dy="8.3">org</tspan><tspan x="0" dy="8.3">1 hop</tspan></text>
<text transform="translate(2870.1)" y="1744.5">11@<tspan x="0" dy="8.3">db.wpbl.</tspan><tspan x="0" dy="8.3">info</tspan><tspan x="0" dy="8.3">1 hop</tspan></text>
<text transform="translate(2889.8)" y="1744.5">6@<tspan x="0" dy="8.3">list.</tspan><tspan x="0" dy="8.3">dnswl.org</tspan><tspan x="0" dy="8.3">2 hops</tspan></text>
<text transform="translate(2909.5)" y="1744.5">6@<tspan x="0" dy="8.3">sa-accredit.</tspan><tspan x="0" dy="8.3">habeas.com</tspan><tspan x="0" dy="8.3">dnswl.org</tspan><tspan x="0" dy="8.3">1 hop</tspan></text>
<text transform="translate(2929.2)" y="1744.5">6@<tspan x="0" dy="8.3">ubl.unsub</tspan><tspan x="0" dy="8.3">score.com</tspan><tspan x="0" dy="8.3">net</tspan><tspan x="0" dy="8.3">4 hops</tspan></text>
<text transform="translate(2948.8)" y="1744.5">6@<tspan x="0" dy="8.3">dnsbl.</tspan><tspan x="0" dy="8.3">sorbs.net</tspan><tspan x="0" dy="8.3">2 hops</tspan></text>
<text transform="translate(2968.5)" y="1744.5">6@<tspan x="0" dy="8.3">spam.</tspan><tspan x="0" dy="8.3">dnsbl.</tspan><tspan x="0" dy="8.3">sorbs.net</tspan><tspan x="0" dy="8.3">1 hop</tspan></text>
<text transform="translate(2988.2)" y="1744.5">14@<tspan x="0" dy="8.3">psbl.</tspan><tspan x="0" dy="8.3">surriel.com</tspan><tspan x="0" dy="8.3">org</tspan><tspan x="0" dy="8.3">3 hops</tspan></text>
<text transform="translate(3007.8)" y="1744.5">6@<tspan x="0" dy="8.3">old.</tspan><tspan x="0" dy="8.3">spam.sorbs</tspan><tspan x="0" dy="8.3">.net</tspan><tspan x="0" dy="8.3">5 hops</tspan><tspan x="0" dy="8.3">1 hop</tspan></text>
<text transform="translate(3027.5)" y="1744.5">6@<tspan x="0" dy="8.3">b.barracuda</tspan><tspan x="0" dy="8.3">central.org</tspan><tspan x="0" dy="8.3">1 hop</tspan></text>
<text transform="translate(3047.2)" y="1744.5">2@<tspan x="0" dy="8.3">bl.</tspan><tspan x="0" dy="8.3">spamcop.</tspan><tspan x="0" dy="8.3">net</tspan><tspan x="0" dy="8.3">1 hop</tspan></text>
<text transform="translate(3066.8)" y="1744.5">11@<tspan x="0" dy="8.3">dnsbl-1.</tspan><tspan x="0" dy="8.3">uceprotect.</tspan><tspan x="0" dy="8.3">net</tspan><tspan x="0" dy="8.3">2 hops</tspan></text>
<text transform="translate(3086.5)" y="1744.5">6@<tspan x="0" dy="8.3">zen.</tspan><tspan x="0" dy="8.3">spamhaus.</tspan><tspan x="0" dy="8.3">org</tspan><tspan x="0" dy="8.3">1 hop</tspan></text>
<text transform="translate(3106.2)" y="1744.5">6@<tspan x="0" dy="8.3">db.wpbl.</tspan><tspan x="0" dy="8.3">info</tspan><tspan x="0" dy="8.3">1 hop</tspan></text>
<text transform="translate(3125.9)" y="1744.5">6@<tspan x="0" dy="8.3">list.</tspan><tspan x="0" dy="8.3">dnswl.org</tspan><tspan x="0" dy="8.3">2 hops</tspan></text>
<text transform="translate(3145.5)" y="1744.5">10@<tspan x="0" dy="8.3">sa-accredit.</tspan><tspan x="0" dy="8.3">habeas.com</tspan><tspan x="0" dy="8.3">dnswl.org</tspan><tspan x="0" dy="8.3">1 hop</tspan></text>
<text transform="translate(3165.2)" y="1744.5">6@<tspan x="0" dy="8.3">ubl.unsub</tspan><tspan x="0" dy="8.3">score.com</tspan><tspan x="0" dy="8.3">net</tspan><tspan x="0" dy="8.3">4 hops</tspan></text>
</g>
</svg>
</body></html>
